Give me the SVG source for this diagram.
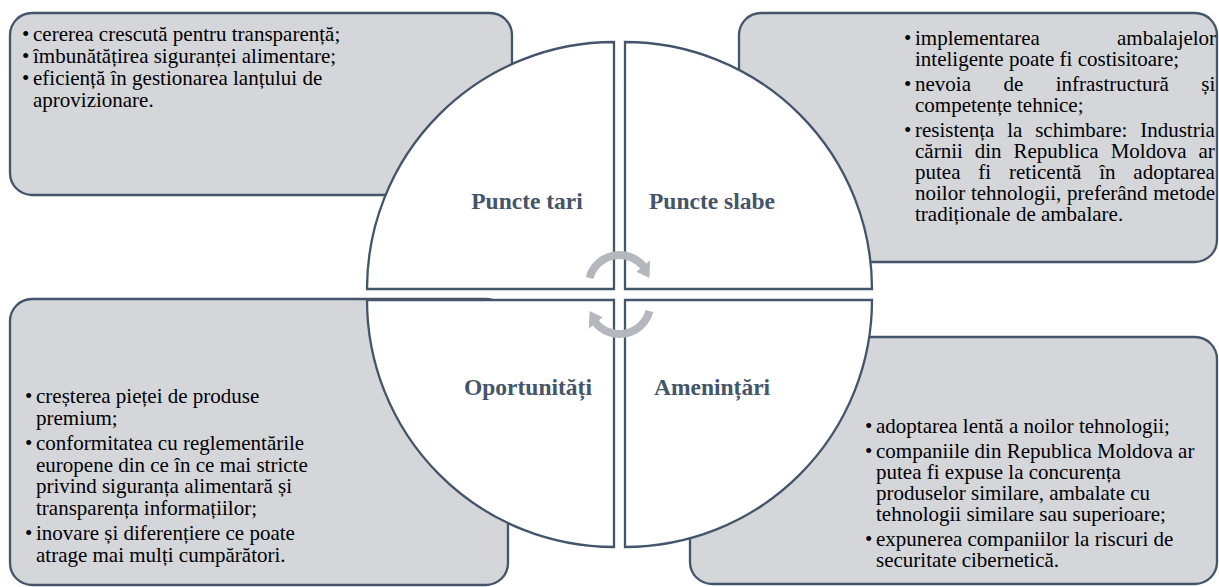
<svg xmlns="http://www.w3.org/2000/svg" width="1219" height="587" viewBox="0 0 1219 587">
<style>
.box{fill:#D5D6DA;stroke:#44546A;stroke-width:2.3}
.q{fill:#FFFFFF;stroke:#44546A;stroke-width:2.3}
.t{font-family:"Liberation Serif","Times New Roman",serif;font-size:21px;fill:#000}
.h{font-family:"Liberation Serif","Times New Roman",serif;font-size:23.5px;font-weight:bold;fill:#44546A;text-anchor:middle}
.arc{fill:none;stroke:#B4B7BD;stroke-width:8}
.head{fill:#B4B7BD}
</style>
<rect width="1219" height="587" fill="#FFFFFF"/>
<g id="box-tl"><rect class="box" x="10" y="13" width="502" height="182" rx="22"/></g>
<g id="box-tr"><rect class="box" x="739" y="13" width="478" height="249" rx="22"/></g>
<g id="box-bl"><rect class="box" x="10" y="299" width="498" height="286" rx="22"/></g>
<g id="box-br"><rect class="box" x="690" y="337" width="527" height="247" rx="22"/></g>

<g id="q-tl"><path class="q" d="M614,289 L367,289 A247,247 0 0 1 614,42 Z"/><text class="h" x="527" y="209">Puncte tari</text></g>
<g id="q-tr"><path class="q" d="M625,289 L625,42 A247,247 0 0 1 872,289 Z"/><text class="h" x="712" y="209">Puncte slabe</text></g>
<g id="q-bl"><path class="q" d="M614,300 L614,547 A247,247 0 0 1 367,300 Z"/><text class="h" x="528" y="395">Oportunități</text></g>
<g id="q-br"><path class="q" d="M625,300 L872,300 A247,247 0 0 1 625,547 Z"/><text class="h" x="712" y="395">Amenințări</text></g>

<g id="connectors">
<g id="arrow-top">
<path class="arc" d="M589.56,277.98 A31,31 0 0 1 643.93,266.91"/>
<polygon class="head" points="650.14,260.29 636.35,271.86 649.45,277.97"/>
</g>
<g id="arrow-bottom" transform="rotate(180 619.5 294.5)">
<path class="arc" d="M589.56,277.98 A31,31 0 0 1 643.93,266.91"/>
<polygon class="head" points="650.14,260.29 636.35,271.86 649.45,277.97"/>
</g>
</g>

<g id="text-tl">
<text class="t"><tspan x="22" y="40.5">•</tspan><tspan x="33" y="40.5">cererea crescută pentru transparență;</tspan><tspan x="22" y="62.5">•</tspan><tspan x="33" y="62.5">îmbunătățirea siguranței alimentare;</tspan><tspan x="22" y="84.5">•</tspan><tspan x="33" y="84.5">eficiență în gestionarea lanțului de</tspan><tspan x="33" y="106.5">aprovizionare.</tspan></text>
</g>

<g id="text-tr">
<text class="t"><tspan x="904" y="45">•</tspan><tspan x="915" y="45">implementarea</tspan><tspan x="1117" y="45">ambalajelor</tspan><tspan x="915" y="66">inteligente poate fi costisitoare;</tspan><tspan x="904" y="91">•</tspan><tspan x="915" y="91" word-spacing="27.2">nevoia de infrastructură și</tspan><tspan x="915" y="112">competențe tehnice;</tspan><tspan x="904" y="137">•</tspan><tspan x="915" y="137" word-spacing="7.6">resistența la schimbare: Industria</tspan><tspan x="915" y="158" word-spacing="6.7">cărnii din Republica Moldova ar</tspan><tspan x="915" y="179" word-spacing="12.6">putea fi reticentă în adoptarea</tspan><tspan x="915" y="200" word-spacing="0.5">noilor tehnologii, preferând metode</tspan><tspan x="915" y="221">tradiționale de ambalare.</tspan></text>
</g>

<g id="text-bl">
<text class="t"><tspan x="25" y="403">•</tspan><tspan x="36" y="403">creșterea pieței de produse</tspan><tspan x="36" y="424.5">premium;</tspan><tspan x="25" y="450">•</tspan><tspan x="36" y="450">conformitatea cu reglementările</tspan><tspan x="36" y="471.5">europene din ce în ce mai stricte</tspan><tspan x="36" y="493">privind siguranța alimentară și</tspan><tspan x="36" y="514.5">transparența informațiilor;</tspan><tspan x="25" y="540">•</tspan><tspan x="36" y="540">inovare și diferențiere ce poate</tspan><tspan x="36" y="561.5">atrage mai mulți cumpărători.</tspan></text>
</g>

<g id="text-br">
<text class="t"><tspan x="865" y="433">•</tspan><tspan x="876" y="433">adoptarea lentă a noilor tehnologii;</tspan><tspan x="865" y="458">•</tspan><tspan x="876" y="458">companiile din Republica Moldova ar</tspan><tspan x="876" y="479">putea fi expuse la concurența</tspan><tspan x="876" y="500">produselor similare, ambalate cu</tspan><tspan x="876" y="521">tehnologii similare sau superioare;</tspan><tspan x="865" y="546">•</tspan><tspan x="876" y="546">expunerea companiilor la riscuri de</tspan><tspan x="876" y="567">securitate cibernetică.</tspan></text>
</g>
</svg>
